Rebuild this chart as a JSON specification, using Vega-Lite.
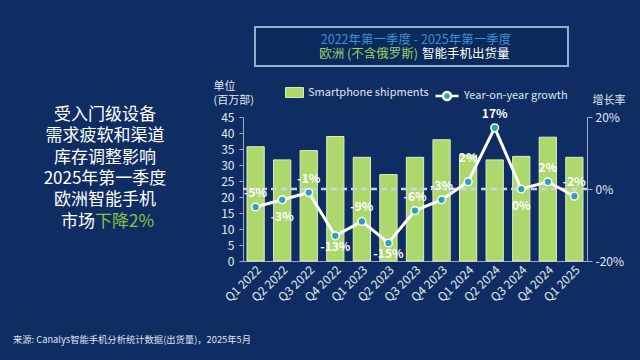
{
  "$schema": "https://vega.github.io/schema/vega-lite/v6.json",
  "width": 344,
  "height": 144,
  "autosize": {"type": "none"},
  "padding": {"left": 243, "top": 117, "right": 53, "bottom": 99},
  "background": "#0f2d62",
  "config": {
    "view": {"stroke": null},
    "font": "Noto Sans CJK SC",
    "locale": {"number": {"decimal": ".", "thousands": ",", "grouping": [3], "currency": ["$", ""], "minus": "-"}},
    "axis": {
      "labelColor": "#e3e8f0",
      "labelFont": "Noto Sans CJK SC",
      "labelFontSize": 12,
      "titleColor": "#e3e8f0",
      "titleFont": "Noto Sans CJK SC",
      "titleFontSize": 11,
      "titleFontWeight": "normal",
      "domainColor": "#9eabbf",
      "tickColor": "#9eabbf",
      "grid": false
    },
    "legend": {"labelColor": "#dfe5ee", "labelFontSize": 11, "labelFont": "Noto Sans CJK SC"}
  },
  "data": {"values": [
    {"quarter": "Q1 2022", "shipments": 35.7, "growth": -0.05},
    {"quarter": "Q2 2022", "shipments": 31.6, "growth": -0.03},
    {"quarter": "Q3 2022", "shipments": 34.5, "growth": -0.01},
    {"quarter": "Q4 2022", "shipments": 38.9, "growth": -0.13},
    {"quarter": "Q1 2023", "shipments": 32.4, "growth": -0.09},
    {"quarter": "Q2 2023", "shipments": 27.0, "growth": -0.15},
    {"quarter": "Q3 2023", "shipments": 32.4, "growth": -0.06},
    {"quarter": "Q4 2023", "shipments": 37.9, "growth": -0.03},
    {"quarter": "Q1 2024", "shipments": 33.1, "growth": 0.02},
    {"quarter": "Q2 2024", "shipments": 31.6, "growth": 0.17},
    {"quarter": "Q3 2024", "shipments": 32.7, "growth": 0.0},
    {"quarter": "Q4 2024", "shipments": 38.7, "growth": 0.02},
    {"quarter": "Q1 2025", "shipments": 32.4, "growth": -0.02}
  ]},
  "layer": [
    {
      "data": {"values": [{}]},
      "mark": {"type": "rect", "fill": "#0b2a5c", "stroke": "#8fb0cf", "strokeWidth": 2},
      "encoding": {"x": {"value": 12}, "x2": {"value": 325}, "y": {"value": -90}, "y2": {"value": -51}}
    },
    {
      "data": {"values": [{"msg": "2022年第一季度 - 2025年第一季度"}]},
      "mark": {"type": "text", "align": "center", "baseline": "middle", "fontSize": 12.5, "color": "#3f8fcf"},
      "encoding": {"text": {"field": "msg"}, "x": {"value": 173}, "y": {"value": -77.5}}
    },
    {
      "data": {"values": [{"msg": "欧洲 (不含俄罗斯)"}]},
      "mark": {"type": "text", "align": "right", "baseline": "middle", "fontSize": 12.5, "color": "#9ccf63"},
      "encoding": {"text": {"field": "msg"}, "x": {"value": 175}, "y": {"value": -63}}
    },
    {
      "data": {"values": [{"msg": "智能手机出货量"}]},
      "mark": {"type": "text", "align": "left", "baseline": "middle", "fontSize": 12.5, "color": "#ffffff"},
      "encoding": {"text": {"field": "msg"}, "x": {"value": 179}, "y": {"value": -63}}
    },
    {
      "data": {"values": [{"msg": "受入门级设备\n需求疲软和渠道\n库存调整影响\n2025年第一季度\n欧洲智能手机"}]},
      "mark": {"type": "text", "align": "center", "baseline": "top", "fontSize": 17, "lineHeight": 21.3, "lineBreak": "\n", "color": "#ffffff"},
      "encoding": {"text": {"field": "msg"}, "x": {"value": -138}, "y": {"value": -10}}
    },
    {
      "data": {"values": [{"msg": "市场"}]},
      "mark": {"type": "text", "align": "right", "baseline": "top", "fontSize": 17, "color": "#ffffff"},
      "encoding": {"text": {"field": "msg"}, "x": {"value": -148}, "y": {"value": 97}}
    },
    {
      "data": {"values": [{"msg": "下降2%"}]},
      "mark": {"type": "text", "align": "left", "baseline": "top", "fontSize": 17, "color": "#86c440"},
      "encoding": {"text": {"field": "msg"}, "x": {"value": -148}, "y": {"value": 97}}
    },
    {
      "data": {"values": [{"msg": "来源: Canalys智能手机分析统计数据(出货量)，2025年5月"}]},
      "mark": {"type": "text", "align": "left", "baseline": "middle", "fontSize": 9.3, "color": "#dfe5ee"},
      "encoding": {"text": {"field": "msg"}, "x": {"value": -230}, "y": {"value": 223}}
    },
    {
      "mark": {"type": "bar", "stroke": "#dcefc4", "strokeWidth": 1, "color": "#acd86c"},
      "encoding": {
        "x": {"field": "quarter", "type": "nominal", "sort": null, "scale": {"paddingInner": 0.35, "paddingOuter": 0.15}, "axis": {"title": null, "labelAngle": -45, "ticks": false, "labelFontSize": 12, "labelPadding": 3}},
        "y": {"field": "shipments", "type": "quantitative", "scale": {"domain": [0, 45], "nice": false},
              "axis": {"orient": "left", "values": [0, 5, 10, 15, 20, 25, 30, 35, 40, 45], "title": ["单位", "(百万部)"], "titleAngle": 0, "titleAlign": "left", "titleBaseline": "top", "titleX": -30, "titleY": -37, "titleLineHeight": 14, "labelPadding": 5, "tickSize": 4}},
        "fill": {"datum": "Smartphone shipments", "type": "nominal", "scale": {"range": ["#acd86c"]},
                 "legend": {"orient": "none", "legendX": 42, "legendY": -34, "title": null, "symbolType": "M-1,-0.55H1V0.55H-1Z", "symbolSize": 324, "symbolStrokeColor": "#dcefc4", "symbolStrokeWidth": 1}}
      }
    },
    {
      "layer": [
        {
          "data": {"values": [{}]},
          "mark": {"type": "rule", "strokeDash": [6, 4], "color": "#c9d2de", "strokeWidth": 2.5},
          "encoding": {
            "y": {"datum": 0, "type": "quantitative", "scale": {"domain": [-0.2, 0.2], "nice": false},
                  "axis": {"orient": "right", "values": [-0.2, -0.15, -0.1, -0.05, 0, 0.05, 0.1, 0.15, 0.2], "format": ".0%", "title": "增长率", "titleAngle": 0, "titleAlign": "left", "titleBaseline": "middle", "titleX": 5, "titleY": -17, "labelPadding": 3, "tickSize": 5}}
          }
        },
        {
          "mark": {"type": "line", "strokeWidth": 3},
          "encoding": {
            "x": {"field": "quarter", "type": "nominal", "sort": null},
            "y": {"field": "growth", "type": "quantitative"},
            "stroke": {"datum": "Year-on-year growth", "type": "nominal", "scale": {"range": ["#ffffff"]},
                       "legend": {"orient": "none", "legendX": 191, "legendY": -34, "title": null, "symbolType": "M-1,0L-0.35,0M0.35,0L1,0M-0.35,0A0.35,0.35 0 1 1 0.35,0A0.35,0.35 0 1 1 -0.35,0Z", "symbolSize": 529, "symbolStrokeWidth": 2.5, "encode": {"symbols": {"update": {"fill": {"value": "#2aa4b0"}, "stroke": {"value": "#ffffff"}}}}}}
          }
        },
        {
          "mark": {"type": "point", "filled": true, "fill": "#2aa4b0", "stroke": "#ffffff", "strokeWidth": 1.5, "size": 60, "opacity": 1},
          "encoding": {
            "x": {"field": "quarter", "type": "nominal", "sort": null},
            "y": {"field": "growth", "type": "quantitative"}
          }
        },
        {
          "transform": [{"filter": {"field": "quarter", "oneOf": ["Q1 2022", "Q3 2022", "Q1 2023", "Q3 2023", "Q4 2023", "Q2 2024", "Q4 2024", "Q1 2025"]}}],
          "mark": {"type": "text", "dy": -14, "fontSize": 12, "fontWeight": "bold", "color": "#ffffff"},
          "encoding": {
            "x": {"field": "quarter", "type": "nominal", "sort": null},
            "y": {"field": "growth", "type": "quantitative"},
            "text": {"field": "growth", "format": ".0%"}
          }
        },
        {
          "transform": [{"filter": {"field": "quarter", "oneOf": ["Q1 2024"]}}],
          "mark": {"type": "text", "dy": -24, "fontSize": 12, "fontWeight": "bold", "color": "#ffffff"},
          "encoding": {
            "x": {"field": "quarter", "type": "nominal", "sort": null},
            "y": {"field": "growth", "type": "quantitative"},
            "text": {"field": "growth", "format": ".0%"}
          }
        },
        {
          "transform": [{"filter": {"field": "quarter", "oneOf": ["Q2 2022", "Q3 2024"]}}],
          "mark": {"type": "text", "dy": 17, "fontSize": 12, "fontWeight": "bold", "color": "#ffffff"},
          "encoding": {
            "x": {"field": "quarter", "type": "nominal", "sort": null},
            "y": {"field": "growth", "type": "quantitative"},
            "text": {"field": "growth", "format": ".0%"}
          }
        },
        {
          "transform": [{"filter": {"field": "quarter", "oneOf": ["Q4 2022", "Q2 2023"]}}],
          "mark": {"type": "text", "dy": 11, "fontSize": 12, "fontWeight": "bold", "color": "#ffffff"},
          "encoding": {
            "x": {"field": "quarter", "type": "nominal", "sort": null},
            "y": {"field": "growth", "type": "quantitative"},
            "text": {"field": "growth", "format": ".0%"}
          }
        }
      ]
    }
  ],
  "resolve": {"scale": {"y": "independent"}}
}
